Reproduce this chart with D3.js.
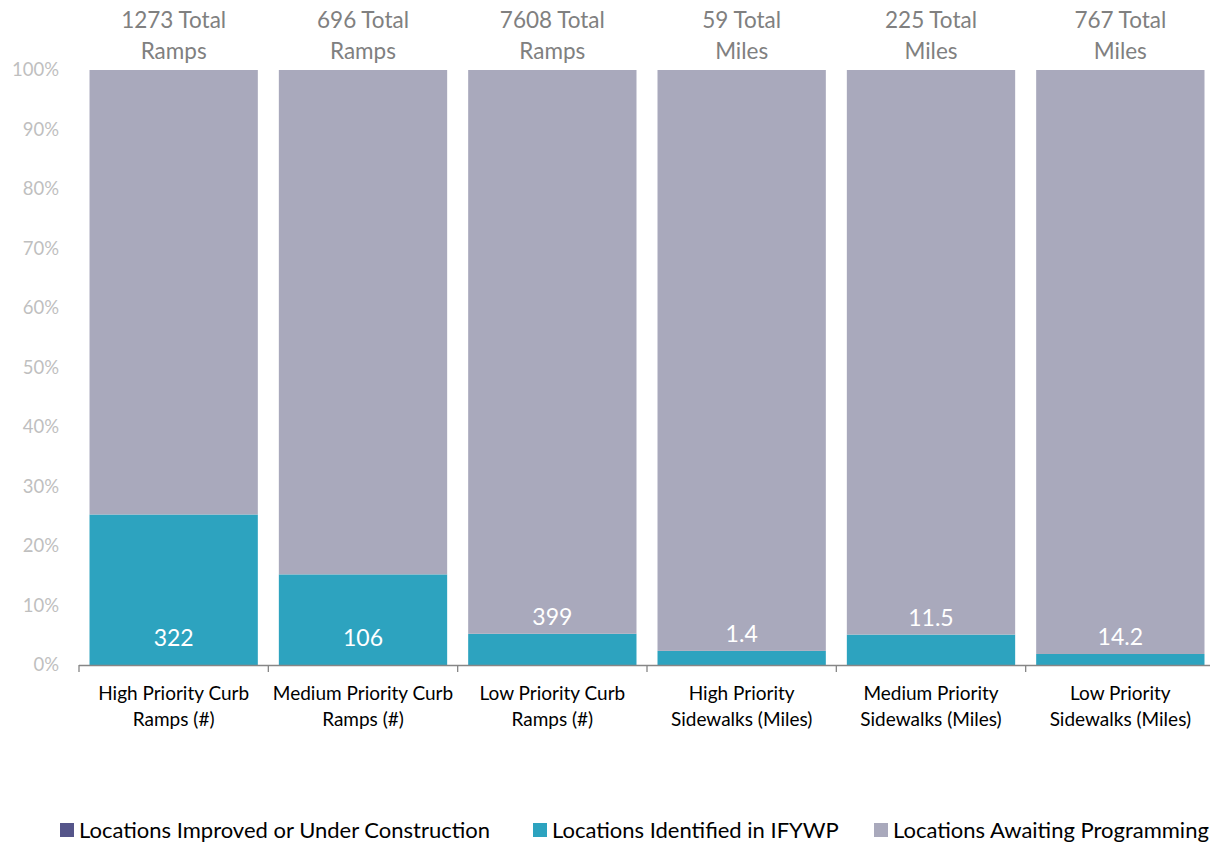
<!DOCTYPE html>
<html>
<head>
<meta charset="utf-8">
<script src="https://cdn.jsdelivr.net/npm/d3@7"></script>
<style>
  body { margin: 0; background: #fff; }
  svg { display: block; font-family: Lato, "Open Sans", sans-serif; }
</style>
</head>
<body>
<div id="chart"></div>
<script>
// chart data
const categories = [
    ["High Priority Curb", "Ramps (#)"],
    ["Medium Priority Curb", "Ramps (#)"],
    ["Low Priority Curb", "Ramps (#)"],
    ["High Priority", "Sidewalks (Miles)"],
    ["Medium Priority", "Sidewalks (Miles)"],
    ["Low Priority", "Sidewalks (Miles)"]
];
const totals = [1273, 696, 7608, 59, 225, 767];
const totalUnits = ["Ramps", "Ramps", "Ramps", "Miles", "Miles", "Miles"];
const improved = [0, 0, 0, 0, 0, 0];
const identified = [322, 106, 399, 1.4, 11.5, 14.2];
const seriesNames = ["Locations Improved or Under Construction", "Locations Identified in IFYWP", "Locations Awaiting Programming"];
const seriesColors = ["#55558a", "#2da3bf", "#a9a9bc"];
const yTicks = [0, 0.1, 0.2, 0.3, 0.4, 0.5, 0.6, 0.7, 0.8, 0.9, 1];

document.addEventListener('DOMContentLoaded', () => {
    const width = 1210;
    const height = 842;
    const margin = { top: 70, right: -5, bottom: 177, left: 79 };

    const svg = d3.select("#chart").append("svg")
        .attr("width", width)
        .attr("height", height);

    const x = d3.scaleBand()
        .domain(d3.range(categories.length))
        .range([margin.left, width - margin.right])
        .paddingInner(0.111)
        .paddingOuter(0.0555);

    const y = d3.scaleLinear()
        .domain([0, 1])
        .range([height - margin.bottom, margin.top]);

    // stacked shares
    const rows = totals.map((t, i) => ({
        improved: improved[i] / t,
        identified: identified[i] / t,
        awaiting: (t - improved[i] - identified[i]) / t
    }));
    const stack = d3.stack().keys(["improved", "identified", "awaiting"]);
    const series = stack(rows);

    svg.append("g")
        .selectAll("g")
        .data(series)
        .join("g")
        .attr("fill", (d, i) => seriesColors[i])
        .selectAll("rect")
        .data(d => d)
        .join("rect")
        .attr("x", (d, i) => x(i))
        .attr("y", d => y(d[1]))
        .attr("width", x.bandwidth())
        .attr("height", d => y(d[0]) - y(d[1]));

    // y axis
    const yAxis = svg.append("g")
        .attr("transform", `translate(${margin.left},0)`)
        .call(d3.axisLeft(y).tickValues(yTicks).tickFormat(d3.format(".0%")).tickSize(0).tickPadding(20));
    yAxis.select(".domain").remove();
    yAxis.selectAll("text")
        .attr("fill", "#bfbfbf")
        .style("font-size", "18.5px")
        .style("font-family", "Lato, sans-serif");

    // x axis line with boundary ticks
    const base = y(0);
    const step = x.step();
    const x0 = margin.left;
    svg.append("line")
        .attr("x1", x0).attr("x2", width)
        .attr("y1", base + 0.5).attr("y2", base + 0.5)
        .attr("stroke", "#868686").attr("stroke-width", 1.3);
    svg.append("g")
        .selectAll("line")
        .data(d3.range(categories.length + 1))
        .join("line")
        .attr("x1", i => x0 + i * step)
        .attr("x2", i => x0 + i * step)
        .attr("y1", base)
        .attr("y2", base + 7)
        .attr("stroke", "#868686").attr("stroke-width", 1.3);

    // category labels
    svg.append("g")
        .selectAll("text")
        .data(categories)
        .join("text")
        .attr("text-anchor", "middle")
        .attr("fill", "#000")
        .style("font-size", "19px")
        .each(function (d, i) {
            const t = d3.select(this);
            d.forEach((line, j) => {
                t.append("tspan")
                    .attr("x", x(i) + x.bandwidth() / 2)
                    .attr("y", base + 35 + j * 26)
                    .text(line);
            });
        });

    // totals above bars
    svg.append("g")
        .selectAll("text")
        .data(totals)
        .join("text")
        .attr("text-anchor", "middle")
        .attr("fill", "#808080")
        .style("font-size", "22.5px")
        .each(function (d, i) {
            const t = d3.select(this);
            [d + " Total", totalUnits[i]].forEach((line, j) => {
                t.append("tspan")
                    .attr("x", x(i) + x.bandwidth() / 2)
                    .attr("y", 28 + j * 31)
                    .text(line);
            });
        });

    // identified value labels: inside base when there is room, else just above the bar
    svg.append("g")
        .selectAll("text")
        .data(identified)
        .join("text")
        .attr("text-anchor", "middle")
        .attr("fill", "#fff")
        .style("font-size", "23px")
        .attr("x", (d, i) => x(i) + x.bandwidth() / 2)
        .attr("y", (d, i) => {
            const top = y(series[1][i][1]);
            return top < base - 40 ? base - 19 : Math.min(base - 19, top - 9);
        })
        .text(d => d);

    // legend
    const legend = svg.append("g").attr("transform", `translate(60,830)`);
    const legendX = [0, 473, 814];
    seriesNames.forEach((name, i) => {
        const g = legend.append("g").attr("transform", `translate(${legendX[i]},0)`);
        g.append("rect")
            .attr("x", 0).attr("y", -7)
            .attr("width", 14).attr("height", 14)
            .attr("fill", seriesColors[i]);
        g.append("text")
            .attr("x", 19).attr("y", 7.5)
            .attr("fill", "#000")
            .style("font-size", "22px")
            .text(name);
    });
});
</script>
</body>
</html>
